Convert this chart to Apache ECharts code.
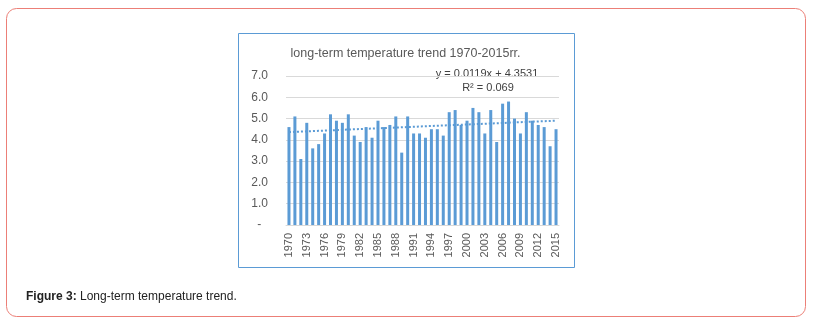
<!DOCTYPE html>
<html>
<head>
<meta charset="utf-8">
<script src="https://cdn.jsdelivr.net/npm/echarts@6/dist/echarts.min.js"></script>
<style>
  html, body { margin:0; padding:0; background:#fff; }
  #chart { width:816px; height:321px; }
</style>
</head>
<body>
<div id="chart"></div>
<script>
var years = ['1970','1971','1972','1973','1974','1975','1976','1977','1978','1979',
             '1980','1981','1982','1983','1984','1985','1986','1987','1988','1989',
             '1990','1991','1992','1993','1994','1995','1996','1997','1998','1999',
             '2000','2001','2002','2003','2004','2005','2006','2007','2008','2009',
             '2010','2011','2012','2013','2014','2015'];
var temps = [4.6,5.1,3.1,4.8,3.6,3.8,4.3,5.2,4.9,4.8,
             5.2,4.2,3.9,4.6,4.1,4.9,4.6,4.7,5.1,3.4,
             5.1,4.3,4.3,4.1,4.5,4.5,4.2,5.3,5.4,4.7,
             4.9,5.5,5.3,4.3,5.4,3.9,5.7,5.8,5.0,4.3,
             5.3,4.9,4.7,4.6,3.7,4.5];
var trendSlope = 0.0119;
var trendIntercept = 4.3531;
var rSquared = '0.069';
var yTicks = [0,1,2,3,4,5,6,7];

var trend = years.map(function(_, i){ return +(trendIntercept + trendSlope*(i+1)).toFixed(4); });

var chart = echarts.init(document.getElementById('chart'), null, {renderer:'canvas'});
chart.setOption({
  animation:false,
  backgroundColor:'#ffffff',
  graphic:[
    {type:'rect', z:0, shape:{x:6.5,y:8.5,width:799,height:308,r:10},
     style:{fill:'none', stroke:'#ec7f77', lineWidth:1}},
    {type:'rect', z:0, shape:{x:238.5,y:33.5,width:336,height:234},
     style:{fill:'none', stroke:'#5b9bd5', lineWidth:1}},
    {type:'text', x:405.5, y:53.5,
     style:{text:'long-term temperature trend 1970-2015rr.', fill:'#595959',
            font:'12.5px "Liberation Sans", Arial, sans-serif', textAlign:'center', textVerticalAlign:'middle'}},
    {type:'text', x:487, y:73.5,
     style:{text:'y = ' + trendSlope + 'x + ' + trendIntercept, fill:'#404040',
            font:'11px "Liberation Sans", Arial, sans-serif', textAlign:'center', textVerticalAlign:'middle'}},
    {type:'text', x:488, y:87.5,
     style:{text:'R² = ' + rSquared, fill:'#404040',
            font:'11px "Liberation Sans", Arial, sans-serif', textAlign:'center', textVerticalAlign:'middle'}},
    {type:'text', x:26, y:296.5,
     style:{text:'{b|Figure 3:} Long-term temperature trend.', textVerticalAlign:'middle',
            font:'12px "Liberation Sans", Arial, sans-serif', fill:'#222',
            rich:{b:{fontWeight:'bold', fontSize:12, fontFamily:'"Liberation Sans", Arial, sans-serif', fill:'#222'}}}}
  ],
  grid:{left:286, top:76, width:273, height:149, containLabel:false},
  xAxis:{
    type:'category', data:years, boundaryGap:true,
    axisLine:{show:true, lineStyle:{color:'#d9d9d9', width:1}},
    axisTick:{show:false},
    axisLabel:{rotate:90, interval:2, fontSize:11, color:'#595959', margin:8,
               fontFamily:'"Liberation Sans", Arial, sans-serif'},
    splitLine:{show:false}
  },
  yAxis:{
    type:'value', min:yTicks[0], max:yTicks[yTicks.length-1], interval:1,
    axisLine:{show:false}, axisTick:{show:false},
    axisLabel:{fontSize:12, color:'#595959', margin:18,
               fontFamily:'"Liberation Sans", Arial, sans-serif',
               formatter:function(v){ return v === 0 ? '-  ' : v.toFixed(1); }},
    splitLine:{show:true, lineStyle:{color:'#d9d9d9', width:1}}
  },
  series:[
    {type:'bar', data:temps, barWidth:3, itemStyle:{color:'#5b9bd5'}, z:2},
    {type:'line', data:trend, symbol:'none', silent:true, z:3,
     lineStyle:{color:'#5b9bd5', width:2, type:[2,2]}}
  ]
});
</script>
</body>
</html>
